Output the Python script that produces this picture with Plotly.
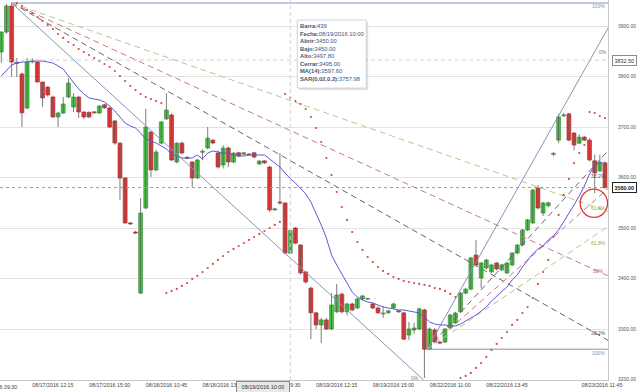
import plotly.graph_objects as go

# ---------------- data ----------------
bars = list(range(1, 119))
opens = [3848.5, 3888, 3939.6, 3828, 3805, 3737.6, 3829, 3828.7, 3789, 3779,
         3759.4, 3719.8, 3727.7, 3759.4, 3739.6, 3759.4, 3729.7, 3729, 3730, 3727.7,
         3744, 3737.6, 3712, 3668, 3599, 3510, 3492, 3371, 3539.6, 3690,
         3615, 3668, 3716, 3723.8, 3630.7, 3668, 3640, 3630.7, 3599, 3650,
         3658.4, 3674, 3648.5, 3624.8, 3658.4, 3630.7, 3649, 3646, 3646, 3649,
         3626.8, 3633, 3620.8, 3536, 3551.5, 3549.5, 3450, 3500, 3466.4, 3413,
         3381, 3332, 3308, 3318, 3300, 3334, 3369, 3334, 3349.6, 3341.6,
         3359.5, 3359, 3349.6, 3341.6, 3330, 3332, 3341.6, 3336, 3332, 3288,
         3298, 3300, 3337.7, 3260, 3298, 3274, 3274.3, 3302, 3312, 3334,
         3371, 3379, 3446.6, 3401, 3420.8, 3413, 3430.7, 3417, 3411, 3426.8,
         3450.5, 3466.4, 3496, 3510, 3579, 3529.7, 3544, 3646, 3674, 3722,
         3726, 3688, 3668, 3680, 3674, 3633, 3613, 3629]
highs = [3890, 3943.5, 3945, 3836.6, 3808, 3836.6, 3836.6, 3833, 3790, 3781,
         3762, 3730, 3759.4, 3797, 3767, 3761, 3731, 3731, 3731, 3743,
         3746, 3740, 3714, 3670, 3601, 3512, 3494, 3559.4, 3735.7, 3692,
         3655, 3712, 3767, 3727, 3670, 3671, 3642, 3632, 3637, 3656,
         3700, 3676, 3654, 3664, 3661, 3650, 3651, 3650, 3648, 3651,
         3634, 3634, 3623, 3540, 3648.5, 3551, 3497.8, 3502, 3468, 3415,
         3384, 3334, 3322, 3322, 3371, 3389, 3372, 3352, 3352, 3362,
         3367, 3361, 3352, 3345, 3345, 3338, 3352, 3337, 3334, 3314,
         3312, 3342, 3340, 3303, 3302, 3276, 3302, 3330, 3334, 3373,
         3381, 3443, 3476, 3433, 3439, 3429, 3433, 3429, 3433, 3452,
         3468, 3498, 3518, 3577, 3585, 3552, 3552, 3650, 3726, 3728,
         3728, 3690, 3686, 3682, 3678, 3645, 3645, 3632]
lows = [3827, 3885, 3799, 3799, 3700, 3735, 3826, 3789, 3740, 3760,
        3718, 3700, 3726, 3757, 3730, 3718, 3716, 3717, 3727, 3726,
        3736, 3698, 3665, 3555.5, 3508, 3506, 3488, 3369, 3537, 3601,
        3612, 3666, 3714, 3632, 3628, 3646, 3636, 3581, 3597, 3634,
        3656, 3666, 3618, 3618, 3620.8, 3628, 3640, 3645, 3643, 3638,
        3625, 3627, 3531.7, 3534, 3545.6, 3448, 3450, 3468, 3408, 3390,
        3280, 3300, 3272, 3298, 3298, 3332, 3331, 3327, 3335, 3339,
        3357, 3358, 3339, 3330, 3322, 3330, 3340, 3332, 3278, 3278,
        3290, 3298, 3203, 3258, 3272, 3270, 3272, 3300, 3310, 3332,
        3369, 3377, 3424, 3381, 3418, 3411, 3416, 3415, 3409, 3424,
        3448, 3464, 3494, 3508, 3537, 3523.8, 3541, 3642, 3668, 3720,
        3672, 3654, 3666, 3672, 3632, 3569, 3611, 3578]
closes = [3888, 3939.6, 3828.7, 3826, 3728, 3828.7, 3830, 3789, 3757.5, 3763.4,
          3719.8, 3727.7, 3745.6, 3787, 3759.4, 3729.7, 3719.8, 3720, 3728, 3741.6,
          3738, 3700, 3668.3, 3599, 3510, 3508, 3490, 3529.7, 3700, 3615,
          3650.5, 3710, 3733.7, 3634.7, 3668, 3648.5, 3638, 3599, 3634.7, 3652,
          3678, 3668.3, 3620.8, 3658.4, 3630.7, 3648.5, 3642.6, 3649, 3645, 3640.6,
          3632.7, 3629, 3535.7, 3538, 3549.5, 3450.5, 3495, 3470, 3411, 3393,
          3332, 3308, 3318, 3300, 3347.6, 3367.4, 3334, 3349.6, 3337.7, 3359.5,
          3365.5, 3360, 3341.6, 3332, 3331, 3336, 3349.6, 3334, 3280, 3300,
          3302, 3340, 3260, 3300, 3274.3, 3272, 3300, 3327.8, 3331.7, 3371.3,
          3379, 3440.6, 3426.8, 3430.7, 3436.7, 3426.8, 3418.9, 3427, 3430.7, 3450.5,
          3466.4, 3496, 3516, 3575.3, 3539.6, 3549.5, 3550, 3648, 3720, 3724,
          3674, 3664.4, 3680, 3674, 3634.7, 3609, 3629, 3580]
ma14 = [3801.0, 3812.9, 3822.8, 3826.7, 3828.7, 3828.7, 3830.7, 3830.7, 3830.7, 3828.7,
        3826.7, 3820.8, 3814.9, 3801.0, 3787.1, 3775.3, 3765.4, 3757.4, 3755.5, 3753.5,
        3749.5, 3741.6, 3731.7, 3719.8, 3707.9, 3702.0, 3698.0, 3688.1, 3676.3, 3672.3,
        3668.3, 3662.4, 3656.5, 3646.6, 3642.6, 3638.6, 3638.6, 3638.6, 3644.6, 3636.7,
        3648.5, 3652.5, 3650.5, 3648.5, 3648.5, 3644.6, 3642.6, 3642.6, 3644.6, 3644.6,
        3644.6, 3644.6, 3636.7, 3628.7, 3620.8, 3608.9, 3597.6, 3589.1, 3579.2, 3567.4,
        3551.5, 3529.7, 3506.0, 3480.2, 3446.6, 3426.8, 3409.0, 3391.1, 3373.3, 3363.4,
        3357.5, 3353.5, 3351.5, 3347.6, 3343.6, 3341.6, 3339.7, 3337.7, 3337.7, 3335.7,
        3333.7, 3331.7, 3323.8, 3313.9, 3309.9, 3308.0, 3308.0, 3306.0, 3306.0, 3309.9,
        3315.9, 3321.8, 3327.8, 3335.7, 3343.6, 3355.5, 3365.4, 3375.3, 3383.2, 3397.1,
        3407.0, 3422.9, 3436.7, 3448.6, 3458.5, 3464.4, 3476.3, 3484.2, 3496.1, 3511.9,
        3527.8, 3545.6, 3563.4, 3583.2, 3607.0, 3622.8, 3630.7, 3626.8]
sar = ([None, None, None] +
       [3945.5, 3939.6, 3931.7, 3925.7, 3917.8, 3909.9, 3902.0, 3894.1, 3884.2, 3876.3,
        3868.3, 3862.4, 3854.5, 3848.5, 3842.6, 3836.6, 3830.7, 3824.8, 3818.8, 3810.9,
        3801.0, 3791.1, 3781.2, 3773.3, 3765.4, 3759.4, 3755.5, 3751.5, 3747.5] +
       [3371.3, 3375.3, 3379.3, 3385.2, 3391.1, 3399.1, 3405.0, 3412.9, 3420.8, 3428.8,
        3436.7, 3444.6, 3452.5, 3458.5, 3464.4, 3470.3, 3476.3, 3482.2, 3488.2, 3494.1,
        3500.0, 3506.0, 3512.0] +
       [3765.4, 3757.98, 3751.5, 3745.6, 3735.7, 3719.8, 3698.0, 3670.3, 3638.6, 3605.0,
        3571.3, 3541.6, 3515.9, 3492.1, 3472.3, 3456.5, 3442.6, 3432.7, 3422.8, 3414.9,
        3409.0, 3403.0, 3399.1, 3395.1, 3393.1, 3391.1, 3389.2, 3387.2, 3385.2, 3381.2,
        3379.3, 3375.3, 3369.4, 3363.4] +
       [3203.0, 3207.0, 3213.0, 3222.9, 3232.7, 3244.6, 3258.5, 3270.4, 3282.2, 3294.1,
        3308.0, 3317.9, 3331.7, 3343.6, 3361.4, 3389.2, 3412.9, 3436.7, 3482.2, 3525.8,
        3565.4, 3597.1, 3628.7, 3648.5, 3664.4] +
       [3729.7, 3727.7, 3721.8, 3717.8])

tick_bars = [11, 22, 33, 44, 55, 66, 77, 88, 99, 117.4]
tick_text = ["08/17/2016 12:15", "08/17/2016 15:00", "08/18/2016 10:45", "08/18/2016 13:30",
             "08/19/2016 09:30", "08/19/2016 12:15", "08/19/2016 15:00", "08/22/2016 11:00",
             "08/22/2016 13:45", "08/23/2016 11:45"]
first_tick_bar, first_tick_text = 0, "08/17/2016 09:30"
price_ticks = [3200, 3300, 3400, 3500, 3600, 3700, 3800, 3900]

cross_bar, cross_price, cross_label = 57, 3832.50, "08/19/2016 10:00"
bar_number = 439
last_price = closes[-1]

fan_left = ((3, 3945.5), (82.2, 3205.0))
fan_right = ((83.5, 3260.0), (109.7, 3735.0))
fan_levels = [0.382, 0.5, 0.618]

# ---------------- figure ----------------
X0, X1 = 0.748, 118.58
Y0, Y1 = 3199.0, 3951.5
FONT = "Liberation Sans, Arial, sans-serif"

fig = go.Figure()

# wicks
wx, wy = [], []
for b, h, l in zip(bars, highs, lows):
    wx += [b, b, None]
    wy += [l, h, None]
fig.add_trace(go.Scatter(x=wx, y=wy, mode="lines", line=dict(color="#5a5a5a", width=0.8),
                         hoverinfo="skip"))

# bodies
base = [min(o, c) for o, c in zip(opens, closes)]
height = [max(abs(c - o), 1.6) for o, c in zip(opens, closes)]
fill = ["#45c345" if c >= o else "#e03a3a" for o, c in zip(opens, closes)]
edge = ["#2b8a2b" if c >= o else "#a52424" for o, c in zip(opens, closes)]
fig.add_trace(go.Bar(x=bars, y=height, base=base, width=0.76,
                     marker=dict(color=fill, line=dict(color=edge, width=0.6)),
                     hoverinfo="skip"))

fan_colors = {0.0: ("#8496b6", "solid"), 0.382: ("#666666", "6px,4px"),
              0.5: ("#c97b78", "6px,4px"), 0.618: ("#b3c98c", "6px,4px")}


def add_fan(a, b):
    ax_, ap = a
    bx, bp = b
    fig.add_trace(go.Scatter(x=[ax_, X1], y=[ap, ap], mode="lines",
                             line=dict(color="#8496b6", width=1), hoverinfo="skip"))
    out = {}
    for lvl in [0.0] + fan_levels:
        target = bp + lvl * (ap - bp)
        slope = (target - ap) / (bx - ax_)
        yend = ap + slope * (X1 - ax_)
        col, dash = fan_colors[lvl]
        fig.add_trace(go.Scatter(x=[ax_, X1], y=[ap, yend], mode="lines",
                                 line=dict(color=col, width=1, dash=dash), hoverinfo="skip"))
        out[lvl] = (ax_, ap, slope)
    return out


left = add_fan(*fan_left)
right = add_fan(*fan_right)

# MA(14)
fig.add_trace(go.Scatter(x=bars, y=ma14, mode="lines", line=dict(color="#5b5bd6", width=1),
                         hoverinfo="skip"))
# SAR
fig.add_trace(go.Scatter(x=bars, y=sar, mode="markers",
                         marker=dict(color="#d44a4a", size=2.2), hoverinfo="skip"))

shapes = [
    dict(type="line", xref="x", yref="paper", x0=cross_bar, x1=cross_bar, y0=0, y1=1,
         line=dict(color="#cfcfcf", width=1, dash="4px,3px")),
    dict(type="line", xref="paper", yref="y", x0=0, x1=1, y0=cross_price, y1=cross_price,
         line=dict(color="#d2d2d2", width=1, dash="4px,3px")),
    dict(type="line", xref="paper", yref="y", x0=0, x1=1, y0=last_price, y1=last_price,
         line=dict(color="#9a9a9a", width=1, dash="dot")),
    dict(type="circle", xref="x", yref="y", x0=113.2, x1=118.5, y0=3521, y1=3577,
         line=dict(color="#e23b3b", width=1.4)),
    # tooltip shadow + box, placed in pixels around the crosshair point
    dict(type="rect", xref="x", yref="y", xsizemode="pixel", ysizemode="pixel",
         xanchor=cross_bar, yanchor=cross_price, x0=9, x1=78, y0=38, y1=-30,
         fillcolor="rgba(0,0,0,0.12)", line=dict(width=0), layer="above"),
    dict(type="rect", xref="x", yref="y", xsizemode="pixel", ysizemode="pixel",
         xanchor=cross_bar, yanchor=cross_price, x0=7, x1=76, y0=40, y1=-28,
         fillcolor="#ffffff", line=dict(color="#cdd3da", width=1), layer="above"),
]


def line_at(info, x):
    ax_, ap, slope = info
    return ap + slope * (x - ax_)


def lab_font(c):
    return dict(family=FONT, size=5, color=c)


ann = []
XL = 116.7
ann += [
    dict(x=XL, y=fan_left[0][1], text="100%", showarrow=False, yshift=-3, font=lab_font("#8194b8")),
    dict(x=fan_left[1][0], y=fan_left[1][1], text="0%", showarrow=False, xanchor="right",
         xshift=1, yshift=-1, font=lab_font("#7a7a7a")),
    dict(x=XL, y=line_at(left[0.382], XL), text="38.2%", showarrow=False, yshift=2,
         font=lab_font("#555555")),
    dict(x=XL, y=line_at(left[0.5], XL), text="50%", showarrow=False, yshift=0,
         font=lab_font("#c55a5a")),
    dict(x=XL, y=line_at(left[0.618], XL), text="61.8%", showarrow=False, yshift=0,
         font=lab_font("#8ab04a")),
    dict(x=XL, y=fan_right[0][1], text="100%", showarrow=False, yshift=-4, font=lab_font("#8194b8")),
    dict(x=117.6, y=line_at(right[0.0], 117.6), text="0%", showarrow=False, yshift=-15,
         font=lab_font("#7a7a7a")),
    dict(x=XL, y=line_at(right[0.382], XL), text="38.2%", showarrow=False, yshift=-15,
         font=lab_font("#555555")),
    dict(x=XL, y=line_at(right[0.618], XL), text="61.8%", showarrow=False, yshift=-10,
         font=lab_font("#8ab04a")),
]

# tooltip text
i = cross_bar - 1
tip = ("<b>Barra:</b>%d<br><b>Fecha:</b>%s<br><b>Abrir:</b>%.2f<br><b>Bajo:</b>%.2f<br>"
       "<b>Alto:</b>%.2f<br><b>Cerrar:</b>%.2f<br><b>MA(14):</b>%.2f<br><b>SAR(0.02,0.2):</b>%.2f"
       % (bar_number, cross_label, opens[i], lows[i], highs[i], closes[i], ma14[i], sar[i]))
ann.append(dict(x=cross_bar, y=cross_price, text=tip, showarrow=False, xanchor="left", yanchor="top",
                align="left", xshift=9, yshift=38, borderpad=0,
                font=dict(family=FONT, size=5.8, color="#3b5680")))

# axis price boxes
ann.append(dict(xref="paper", x=1, y=cross_price, text="%.2f" % cross_price, showarrow=False,
                xanchor="left", xshift=4, bgcolor="#ffffff", bordercolor="#8a8a8a", borderwidth=1,
                borderpad=1.5, font=dict(family=FONT, size=5.4, color="#333")))
ann.append(dict(xref="paper", x=1, y=last_price, text="<b>%.2f</b>" % last_price, showarrow=False,
                xanchor="left", xshift=4, bgcolor="#ffffff", bordercolor="#222222", borderwidth=1,
                borderpad=1.5, font=dict(family=FONT, size=5.4, color="#222")))
# first tick label, centred on its bar (partly off the left edge, as in the original)
ann.append(dict(xref="paper", x=(first_tick_bar - X0) / (X1 - X0), yref="paper", y=0,
                text=first_tick_text, showarrow=False, xanchor="center", yanchor="top", yshift=-2,
                font=dict(family=FONT, size=5.3, color="#444")))
# crosshair date box
ann.append(dict(x=cross_bar, yref="paper", y=0, text=cross_label, showarrow=False,
                xanchor="right", yanchor="top", yshift=-1, width=50, height=8,
                bgcolor="#e8e8e8", bordercolor="#8a8a8a",
                borderwidth=1, borderpad=1, font=dict(family=FONT, size=5.5, color="#333")))

fig.update_layout(
    width=640, height=392, margin=dict(l=0, r=32, t=0, b=12),
    paper_bgcolor="white", plot_bgcolor="white", showlegend=False, hovermode=False,
    shapes=shapes, annotations=ann, barmode="overlay",
    xaxis=dict(range=[X0, X1], tickvals=tick_bars, ticktext=tick_text, showgrid=False,
               zeroline=False, showline=True, linecolor="#c8c8c8", ticks="",
               tickfont=dict(family=FONT, size=5.3, color="#444")),
    yaxis=dict(range=[Y0, Y1], side="right", tickvals=price_ticks, tickformat=".2f",
               showgrid=True, gridcolor="#e3e3e3", zeroline=False, showline=True,
               linecolor="#c8c8c8", ticks="", ticklabelstandoff=8,
               tickfont=dict(family=FONT, size=5, color="#555")),
)
fig.write_html("out.html", config={"displayModeBar": False, "staticPlot": True},
               post_script="document.body.style.margin='0';")
